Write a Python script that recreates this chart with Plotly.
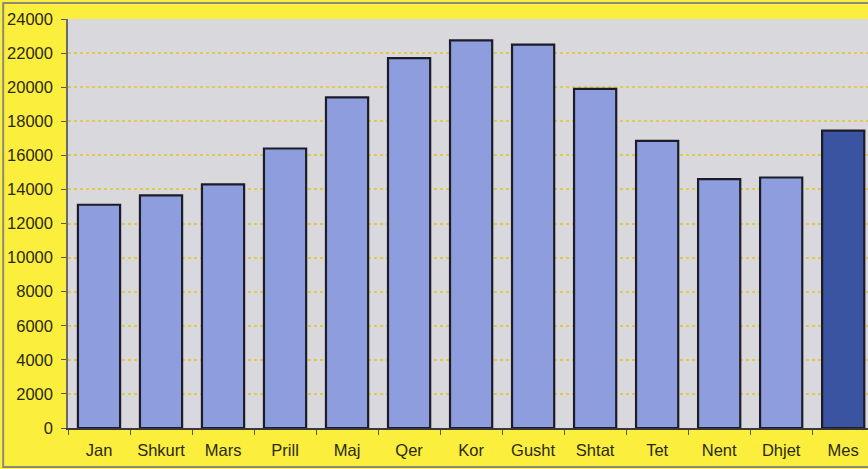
import plotly.graph_objects as go

months = ["Jan", "Shkurt", "Mars", "Prill", "Maj", "Qer", "Kor", "Gusht",
          "Shtat", "Tet", "Nent", "Dhjet", "Mes"]
values = [13100, 13650, 14300, 16400, 19400, 21700, 22750, 22500,
          19900, 16850, 14600, 14700, 17450]
y_ticks = list(range(0, 24001, 2000))
y_tick_text = [str(v) for v in y_ticks]

bar_colors = ["#8E9DDE"] * (len(months) - 1) + ["#3A54A2"]

fig = go.Figure(go.Bar(
    x=months, y=values,
    marker=dict(color=bar_colors, line=dict(color="#1C1C28", width=2.2)),
    width=0.68,
))

font = dict(family="Arial, Liberation Sans, sans-serif", size=16.5, color="#2A2A12")

fig.update_layout(
    width=868, height=469,
    margin=dict(l=68, r=0, t=19, b=41, autoexpand=False),
    paper_bgcolor="#FCEE3C",
    plot_bgcolor="#D8D8DD",
    showlegend=False,
    font=font,
    xaxis=dict(
        range=[-0.5, 12.4], automargin=False,
        tickson="boundaries", ticks="outside", ticklen=5, tickcolor="#555555",
        showline=True, linecolor="#3A3A3A", linewidth=1.5,
        showgrid=False, ticklabelstandoff=6, tickfont=font,
    ),
    yaxis=dict(
        range=[0, 24000], tickvals=y_ticks, ticktext=y_tick_text, automargin=False,
        ticks="outside", ticklen=5, tickcolor="#555555",
        showline=True, linecolor="#6A6A6A", linewidth=1.5,
        showgrid=True, gridcolor="#E0CA48", griddash="3px,3px", gridwidth=1.5,
        zeroline=False, ticklabelstandoff=5, tickfont=font,
    ),
    shapes=[dict(type="rect", xref="paper", yref="paper",
                 x0=-0.081, x1=1.1, y0=-0.0954, y1=1.039,
                 line=dict(color="#8A8A7A", width=2), layer="below")],
)

fig.write_html(
    "out.html",
    config={"displayModeBar": False},
    post_script="document.body.style.margin='0';document.body.style.overflow='hidden';",
)
